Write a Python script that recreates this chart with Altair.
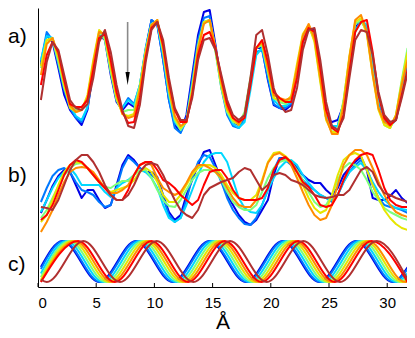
import altair as alt
import pandas as pd

SERIES = ["1", "2", "3", "4", "5", "6", "7", "8"]
COLORS = ["#0000E6", "#0078FF", "#00D8FF", "#7CFF7C", "#E6E600", "#FF8C00", "#FF0000", "#B03030"]

X_GRID = [round(0.25 + 0.5 * i, 2) for i in range(64)]
TICKS = [0, 5, 10, 15, 20, 25, 30]

# panel a) profiles (arbitrary intensity units)
A_1 = [75, 105, 98, 72, 45, 30, 22, 15, 30, 70, 105, 100, 65, 38, 30, 37, 33, 52, 90, 120, 115, 80, 40, 15, 8, 25, 65, 105, 128, 130, 95, 55, 30, 18, 15, 25, 60, 92, 92, 60, 35, 32, 30, 35, 65, 100, 112, 110, 70, 22, 18, 20, 35, 78, 112, 120, 110, 80, 40, 22, 15, 20, 50, 78]
A_2 = [78, 108, 100, 75, 50, 32, 22, 18, 32, 70, 103, 102, 68, 40, 32, 42, 36, 55, 92, 120, 116, 80, 40, 12, 7, 20, 60, 100, 122, 124, 90, 52, 25, 14, 12, 22, 55, 88, 90, 62, 36, 32, 32, 36, 66, 98, 110, 108, 68, 25, 12, 14, 38, 76, 110, 118, 112, 75, 38, 20, 14, 22, 55, 75]
A_3 = [80, 104, 102, 80, 55, 35, 24, 20, 33, 70, 102, 104, 70, 42, 32, 40, 35, 55, 90, 116, 117, 85, 45, 18, 10, 18, 52, 92, 118, 120, 92, 55, 28, 16, 12, 18, 50, 85, 92, 68, 40, 34, 34, 38, 68, 100, 112, 106, 68, 28, 14, 14, 36, 76, 108, 120, 115, 82, 42, 22, 14, 20, 50, 70]
A_4 = [72, 100, 100, 78, 52, 35, 30, 30, 42, 78, 108, 100, 68, 40, 28, 30, 30, 55, 90, 116, 118, 88, 48, 20, 10, 20, 55, 95, 118, 118, 88, 52, 28, 18, 16, 28, 62, 92, 95, 68, 42, 38, 36, 42, 72, 104, 114, 100, 60, 22, 8, 10, 40, 82, 116, 120, 108, 68, 32, 15, 12, 25, 60, 92]
A_5 = [74, 100, 102, 82, 55, 32, 28, 30, 45, 80, 110, 104, 72, 42, 26, 24, 26, 52, 88, 115, 120, 90, 50, 22, 12, 18, 50, 92, 118, 120, 90, 55, 30, 20, 15, 25, 60, 92, 97, 70, 42, 40, 38, 44, 76, 106, 115, 98, 58, 20, 8, 8, 38, 84, 118, 122, 106, 65, 30, 15, 12, 25, 58, 88]
A_6 = [65, 96, 102, 85, 58, 35, 28, 30, 42, 76, 108, 106, 76, 45, 26, 22, 24, 50, 86, 115, 120, 92, 52, 24, 14, 18, 48, 90, 116, 120, 92, 58, 32, 22, 16, 24, 58, 92, 98, 72, 45, 42, 40, 42, 72, 104, 116, 102, 62, 22, 6, 6, 34, 82, 120, 125, 108, 66, 32, 18, 14, 24, 55, 80]
A_7 = [55, 85, 98, 88, 60, 36, 33, 33, 40, 70, 102, 106, 80, 48, 28, 17, 18, 42, 82, 112, 118, 95, 58, 30, 18, 18, 45, 85, 105, 108, 92, 62, 36, 22, 18, 22, 55, 92, 100, 78, 48, 42, 38, 38, 62, 98, 112, 108, 72, 30, 12, 8, 25, 68, 108, 118, 120, 88, 45, 22, 15, 20, 45, 70]
A_8 = [40, 78, 98, 90, 65, 40, 32, 30, 36, 62, 98, 110, 88, 55, 30, 14, 12, 35, 78, 110, 118, 100, 62, 32, 20, 20, 42, 80, 100, 102, 90, 65, 40, 25, 20, 25, 62, 105, 110, 85, 52, 36, 28, 30, 52, 90, 110, 112, 80, 38, 14, 10, 22, 62, 100, 110, 108, 85, 48, 25, 18, 20, 42, 67]

# panel b) profiles
B_1 = [22, 35, 49, 59, 65, 63, 50, 37, 45, 45, 35, 27, 30, 50, 70, 80, 75, 67, 63, 63, 58, 40, 23, 15, 20, 40, 55, 70, 83, 85, 70, 55, 40, 30, 20, 13, 10, 15, 25, 35, 60, 77, 77, 73, 67, 60, 55, 52, 52, 45, 40, 47, 60, 67, 73, 78, 65, 37, 35, 35, 39, 45, 37, 32]
B_2 = [33, 47, 59, 65, 67, 63, 53, 45, 43, 40, 33, 28, 30, 47, 67, 78, 73, 67, 63, 60, 55, 37, 20, 13, 17, 35, 57, 73, 80, 78, 67, 53, 37, 25, 17, 11, 10, 17, 30, 45, 65, 77, 75, 70, 63, 55, 49, 45, 40, 37, 33, 40, 53, 63, 70, 75, 67, 50, 37, 30, 28, 27, 25, 22]
B_3 = [23, 35, 47, 57, 63, 67, 60, 50, 50, 50, 50, 43, 38, 47, 52, 55, 60, 65, 63, 57, 47, 30, 17, 13, 17, 30, 45, 60, 73, 80, 82, 82, 73, 55, 37, 27, 23, 22, 30, 45, 57, 67, 73, 75, 70, 60, 52, 45, 40, 37, 35, 40, 53, 63, 68, 72, 65, 53, 43, 35, 30, 27, 26, 25]
B_4 = [17, 25, 37, 49, 60, 67, 71, 72, 67, 60, 53, 48, 47, 51, 54, 54, 60, 65, 65, 57, 45, 35, 29, 28, 35, 45, 55, 62, 65, 65, 63, 55, 43, 33, 28, 25, 25, 30, 43, 57, 67, 73, 75, 73, 65, 55, 43, 33, 28, 30, 40, 55, 67, 72, 70, 65, 55, 43, 35, 27, 23, 20, 17, 15]
B_5 = [13, 20, 35, 50, 63, 70, 73, 72, 67, 60, 53, 47, 43, 45, 47, 49, 55, 63, 67, 63, 53, 40, 33, 33, 40, 50, 60, 67, 70, 70, 67, 60, 50, 42, 37, 35, 35, 40, 55, 73, 82, 83, 79, 73, 63, 50, 37, 27, 22, 25, 40, 60, 75, 80, 82, 79, 65, 50, 37, 25, 17, 11, 7, 5]
B_6 = [3, 13, 25, 40, 53, 63, 67, 68, 67, 63, 55, 47, 42, 42, 45, 50, 60, 70, 73, 70, 57, 47, 43, 40, 43, 52, 63, 70, 70, 67, 63, 57, 47, 37, 30, 28, 28, 35, 53, 72, 80, 82, 78, 70, 57, 43, 30, 20, 15, 17, 30, 50, 70, 80, 85, 85, 80, 67, 53, 40, 30, 23, 20, 18]
B_7 = [15, 20, 30, 45, 60, 70, 75, 73, 67, 60, 53, 47, 40, 35, 35, 45, 60, 70, 73, 73, 65, 55, 52, 47, 40, 35, 30, 35, 50, 63, 65, 65, 57, 45, 37, 35, 35, 35, 37, 47, 65, 75, 78, 73, 63, 53, 48, 40, 30, 28, 30, 40, 55, 67, 75, 80, 82, 80, 65, 47, 35, 30, 28, 28]
B_8 = [28, 27, 25, 35, 50, 65, 75, 80, 80, 73, 63, 50, 40, 35, 35, 40, 50, 63, 70, 72, 70, 60, 47, 35, 25, 20, 17, 25, 40, 47, 50, 53, 55, 57, 63, 67, 65, 55, 45, 50, 60, 62, 60, 55, 53, 50, 45, 40, 38, 37, 38, 40, 40, 45, 55, 65, 68, 63, 50, 42, 40, 37, 35, 33]

# panel c) fitted waves: extrema positions and values
C_1_X = [0.25, 2.1, 5.25, 8.4, 11.55, 14.7, 17.85, 21.0, 24.15, 27.3, 30.45, 31.75]
C_1_Y = [18.9, 45, 4, 45, 4, 45, 4, 45, 4, 45, 4, 18.8]
C_2_X = [0.25, 2.2, 5.35, 8.5, 11.65, 14.8, 17.95, 21.1, 24.25, 27.4, 30.55, 31.75]
C_2_Y = [17.0, 45, 4, 45, 4, 45, 4, 45, 4, 45, 4, 16.9]
C_3_X = [0.25, 2.45, 5.6, 8.75, 11.9, 15.05, 18.2, 21.35, 24.5, 27.65, 30.8, 31.75]
C_3_Y = [12.5, 45, 4, 45, 4, 45, 4, 45, 4, 45, 4, 12.6]
C_4_X = [0.25, 2.7, 5.85, 9.0, 12.15, 15.3, 18.45, 21.6, 24.75, 27.9, 31.05, 31.75]
C_4_Y = [8.8, 45, 4, 45, 4, 45, 4, 45, 4, 45, 4, 8.8]
C_5_X = [0.25, 2.95, 6.1, 9.25, 12.4, 15.55, 18.7, 21.85, 25.0, 28.15, 31.3, 31.75]
C_5_Y = [6.0, 45, 4, 45, 4, 45, 4, 45, 4, 45, 4, 6.0]
C_6_X = [0.25, 3.2, 6.35, 9.5, 12.65, 15.8, 18.95, 22.1, 25.25, 28.4, 31.55, 31.75]
C_6_Y = [4.4, 45, 4, 45, 4, 45, 4, 45, 4, 45, 4, 4.4]
C_7_X = [0.25, 3.45, 6.6, 9.75, 12.9, 16.05, 19.2, 22.35, 25.5, 28.65, 31.75]
C_7_Y = [4.0, 45, 4, 45, 4, 45, 4, 45, 4, 45, 4.0]
C_8_X = [0.25, 0.75, 3.9, 7.05, 10.2, 13.35, 16.5, 19.65, 22.8, 25.95, 29.1, 31.75]
C_8_Y = [6.5, 4, 45, 4, 45, 4, 45, 4, 45, 4, 45, 6.5]

PANEL_BASE = {"a": 147, "b": 52, "c": 1}
PANEL_LABELS = ["a)", "b)", "c)"]
PANEL_LABEL_Y = [250, 111, 22]

ARROW_X = 7.7
ARROW_TOP = 118
ARROW_TIP = 55

A_ALL = [A_1, A_2, A_3, A_4, A_5, A_6, A_7, A_8]
B_ALL = [B_1, B_2, B_3, B_4, B_5, B_6, B_7, B_8]
C_ALL = [(C_1_X, C_1_Y), (C_2_X, C_2_Y), (C_3_X, C_3_Y), (C_4_X, C_4_Y),
         (C_5_X, C_5_Y), (C_6_X, C_6_Y), (C_7_X, C_7_Y), (C_8_X, C_8_Y)]

rows_a, rows_b, rows_c = [], [], []
for si, s in enumerate(SERIES):
    for xv, yv in zip(X_GRID, A_ALL[si]):
        rows_a.append({"x": xv, "y": PANEL_BASE["a"] + yv, "series": s})
    for xv, yv in zip(X_GRID, B_ALL[si]):
        rows_b.append({"x": xv, "y": PANEL_BASE["b"] + yv, "series": s})
    cx, cy = C_ALL[si]
    for xv, yv in zip(cx, cy):
        rows_c.append({"x": xv, "y": PANEL_BASE["c"] + yv, "series": s})

df_a = pd.DataFrame(rows_a)
df_b = pd.DataFrame(rows_b)
df_c = pd.DataFrame(rows_c)

xscale = alt.Scale(domain=[0, 31.7], nice=False, zero=False)
yscale = alt.Scale(domain=[0, 279], nice=False, zero=False)
xaxis = alt.Axis(values=TICKS, title="Å", ticks=False, tickSize=0, labelPadding=8,
                 labelFontSize=15, titleFontSize=21, titleFontWeight="normal",
                 titlePadding=1, grid=False, domainColor="black", domainWidth=1,
                 labelColor="black", titleColor="black", labelFont="Liberation Sans",
                 titleFont="Liberation Sans", format="d")
yaxis = alt.Axis(labels=False, ticks=False, title=None, grid=False,
                 domainColor="black", domainWidth=1)
color = alt.Color("series:N", scale=alt.Scale(domain=SERIES, range=COLORS), legend=None)


def X(field):
    return alt.X(field, scale=xscale, axis=xaxis)


def Y(field):
    return alt.Y(field, scale=yscale, axis=yaxis)


def lines(df, interp):
    return alt.Chart(df).mark_line(strokeWidth=2, interpolate=interp, strokeJoin="round").encode(
        x=X("x:Q"), y=Y("y:Q"), color=color, order=alt.Order("x:Q"),
    )


la = lines(df_a, "linear")
lb = lines(df_b, "linear")
lc = lines(df_c, "monotone")

arrow_df = pd.DataFrame([{"x": ARROW_X, "y": PANEL_BASE["a"] + ARROW_TOP,
                          "y2": PANEL_BASE["a"] + ARROW_TIP + 12,
                          "yh": PANEL_BASE["a"] + ARROW_TIP + 6.5}])
arrow_line = alt.Chart(arrow_df).mark_rule(color="#8a8a8a", strokeWidth=1.6).encode(
    x=X("x:Q"), y=Y("y:Q"), y2="y2:Q",
)
arrow_head = alt.Chart(arrow_df).mark_point(
    shape="M -0.33 -1 L 0.33 -1 L 0 1 Z", filled=True, color="black", size=169, opacity=1
).encode(x=X("x:Q"), y=Y("yh:Q"))

ticks_df = pd.DataFrame({"t": TICKS})
tick_marks = alt.Chart(ticks_df).mark_rule(color="black", strokeWidth=1).encode(
    x=X("t:Q"), y=alt.value(279), y2=alt.value(275),
)

labels_df = pd.DataFrame({"label": PANEL_LABELS, "y": PANEL_LABEL_Y})
panel_labels = alt.Chart(labels_df).mark_text(
    align="left", baseline="middle", fontSize=21, font="Liberation Sans", color="black"
).encode(x=alt.value(-30), y=Y("y:Q"), text="label:N")

chart = alt.layer(la, lb, lc, arrow_line, arrow_head, tick_marks, panel_labels).properties(
    width=369, height=279,
    autosize=alt.AutoSizeParams(type="none"),
    padding={"left": 30, "top": 0, "right": 0, "bottom": 48},
).configure_view(stroke=None)

chart.save("out.html", embed_options={"renderer": "svg", "actions": False})
